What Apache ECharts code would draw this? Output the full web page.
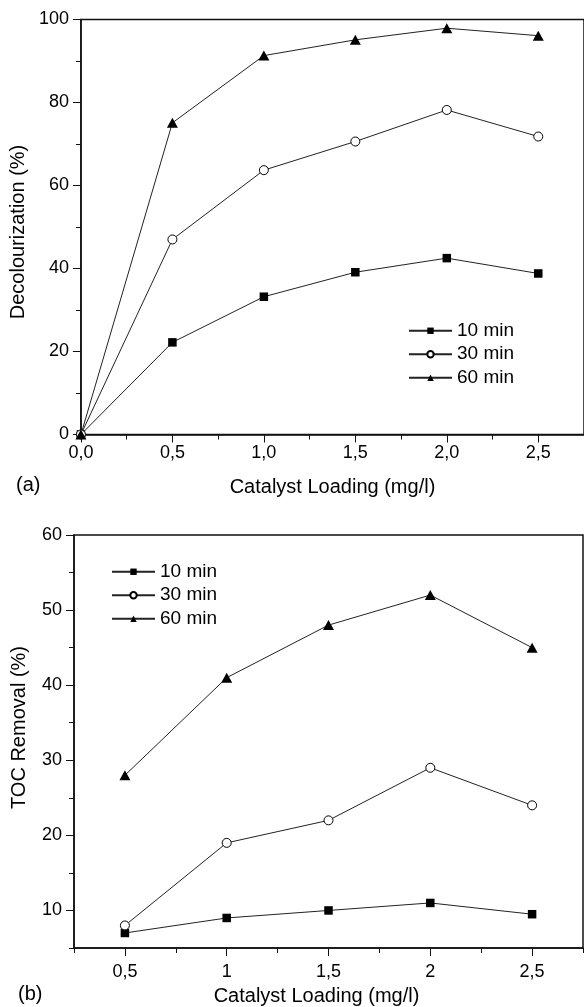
<!DOCTYPE html>
<html>
<head>
<meta charset="utf-8">
<script src="https://cdn.jsdelivr.net/npm/echarts@6/dist/echarts.min.js"></script>
<style>
  html, body { margin: 0; padding: 0; background: #fff; }
  #chart { width: 584px; height: 1007px; }
</style>
</head>
<body>
<div id="chart"></div>
<script>
// Series names shared by both panels
const seriesNames = ['10 min', '30 min', '60 min'];

// Panel (a): decolourization vs catalyst loading
const loadingA = [0, 0.5, 1.0, 1.5, 2.0, 2.5];
const decol10 = [0, 22.2, 33.2, 39.1, 42.5, 38.8];
const decol30 = [0, 47.0, 63.7, 70.6, 78.2, 71.8];
const decol60 = [0, 75.1, 91.3, 95.1, 97.9, 96.1];
const ticksAx = [0, 0.5, 1.0, 1.5, 2.0, 2.5];
const minorAx = [0.25, 0.75, 1.25, 1.75, 2.25, 2.75];
const ticksAy = [0, 20, 40, 60, 80, 100];
const minorAy = [10, 30, 50, 70, 90];

// Panel (b): TOC removal vs catalyst loading
const loadingB = [0.5, 1, 1.5, 2, 2.5];
const toc10 = [7, 9, 10, 11, 9.5];
const toc30 = [8, 19, 22, 29, 24];
const toc60 = [28, 41, 48, 52, 45];
const ticksBx = [0.5, 1, 1.5, 2, 2.5];
const minorBx = [0.25, 0.75, 1.25, 1.75, 2.25, 2.75];
const ticksBy = [10, 20, 30, 40, 50, 60];
const minorBy = [5, 15, 25, 35, 45, 55];

const FONT = 'Liberation Sans, Arial, Helvetica, sans-serif';
const INK = '#111';

const markers = [
  { symbol: 'rect', symbolSize: 8.5, itemStyle: { color: '#000' } },
  { symbol: 'circle', symbolSize: 9, itemStyle: { color: '#fff', borderColor: '#000', borderWidth: 1 } },
  { symbol: 'triangle', symbolSize: [11, 10], itemStyle: { color: '#000' } }
];

function pairs(xs, ys) { return xs.map((x, i) => [x, ys[i]]); }

const fmtA = v => v.toFixed(1).replace('.', ',');
const fmtB = v => String(v).replace('.', ',');

function mainAxis(dim, cfg) {
  return Object.assign({
    type: 'value',
    gridIndex: cfg.grid,
    min: cfg.min, max: cfg.max,
    splitLine: { show: false },
    axisLine: { show: true, onZero: false, lineStyle: { color: INK, width: 1.5 } },
    axisTick: { show: true, customValues: cfg.ticks, length: 8, lineStyle: { color: INK, width: 1 } },
    axisLabel: { customValues: cfg.ticks, formatter: cfg.fmt, color: '#000', fontFamily: FONT, fontSize: 18, margin: cfg.margin },
    name: cfg.name, nameLocation: 'middle', nameGap: cfg.nameGap,
    nameTextStyle: { color: '#000', fontFamily: FONT, fontSize: 20, padding: cfg.namePad || 0 }
  }, dim === 'y' ? { position: 'left' } : { position: 'bottom' });
}

function minorAxis(dim, cfg) {
  return {
    type: 'value',
    gridIndex: cfg.grid,
    position: dim === 'y' ? 'left' : 'bottom',
    min: cfg.min, max: cfg.max,
    splitLine: { show: false },
    axisLine: { show: false },
    axisTick: { show: true, customValues: cfg.ticks, length: 5, lineStyle: { color: INK, width: 1 } },
    axisLabel: { show: false }
  };
}

function lineSeries(name, idx, data, ax) {
  return Object.assign({
    type: 'line',
    name: name,
    xAxisIndex: ax, yAxisIndex: ax,
    data: data,
    lineStyle: { color: '#222', width: 1 },
    clip: false,
    z: 3
  }, markers[idx]);
}

const legendBase = {
  orient: 'vertical', padding: 0, itemGap: 0,
  itemWidth: 43, itemHeight: 8,
  data: seriesNames,
  textStyle: { color: '#000', fontFamily: FONT, fontSize: 19, lineHeight: 23.5 }
};

const option = {
  animation: false,
  backgroundColor: '#fff',
  grid: [
    { left: 79, top: 19.5, width: 508, height: 415, show: true, borderColor: INK, borderWidth: 1.5, containLabel: false },
    { left: 74, top: 535, width: 509, height: 414, show: true, borderColor: INK, borderWidth: 1.5, containLabel: false }
  ],
  xAxis: [
    mainAxis('x', { grid: 0, min: 0, max: 2.75, ticks: ticksAx, fmt: fmtA, margin: 10, name: 'Catalyst Loading (mg/l)', nameGap: 43 }),
    mainAxis('x', { grid: 1, min: 0.25, max: 2.75, ticks: ticksBx, fmt: fmtB, margin: 15, name: 'Catalyst Loading (mg/l)', nameGap: 38, namePad: [0, 24, 0, 0] }),
    minorAxis('x', { grid: 0, min: 0, max: 2.75, ticks: minorAx }),
    minorAxis('x', { grid: 1, min: 0.25, max: 2.75, ticks: minorBx })
  ],
  yAxis: [
    mainAxis('y', { grid: 0, min: 0, max: 100, ticks: ticksAy, fmt: v => String(v), margin: 12, name: 'Decolourization (%)', nameGap: 50, namePad: [0, 10, 0, 0] }),
    mainAxis('y', { grid: 1, min: 5, max: 60, ticks: ticksBy, fmt: v => String(v), margin: 12, name: 'TOC Removal (%)', nameGap: 45, namePad: [0, 0, 0, 28] }),
    minorAxis('y', { grid: 0, min: 0, max: 100, ticks: minorAy }),
    minorAxis('y', { grid: 1, min: 5, max: 60, ticks: minorBy })
  ],
  legend: [
    Object.assign({ left: 408, top: 319 }, legendBase),
    Object.assign({ left: 111, top: 560 }, legendBase)
  ],
  graphic: [
    { type: 'text', left: 16, top: 475, style: { text: '(a)', fill: '#000', font: '20px ' + FONT } },
    { type: 'text', left: 18, top: 984, style: { text: '(b)', fill: '#000', font: '20px ' + FONT } }
  ],
  series: [
    lineSeries(seriesNames[0], 0, pairs(loadingA, decol10), 0),
    lineSeries(seriesNames[1], 1, pairs(loadingA, decol30), 0),
    lineSeries(seriesNames[2], 2, pairs(loadingA, decol60), 0),
    lineSeries(seriesNames[0], 0, pairs(loadingB, toc10), 1),
    lineSeries(seriesNames[1], 1, pairs(loadingB, toc30), 1),
    lineSeries(seriesNames[2], 2, pairs(loadingB, toc60), 1)
  ]
};

const chart = echarts.init(document.getElementById('chart'), null, { renderer: 'canvas' });
chart.setOption(option);
</script>
</body>
</html>
